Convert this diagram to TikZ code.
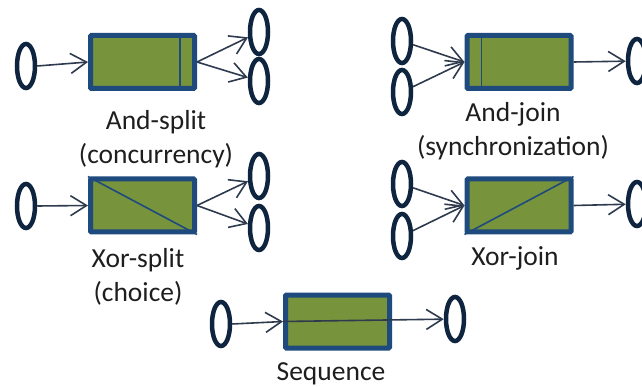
\documentclass[tikz,border=0pt]{standalone}
\usepackage{fontspec}
\setmainfont{Carlito}
\usetikzlibrary{shapes.geometric,arrows.meta,calc}

\definecolor{taskgreen}{HTML}{77933C}
\definecolor{taskblue}{HTML}{1F4A7D}
\definecolor{placeblue}{HTML}{0F243E}
\definecolor{flowgray}{HTML}{2E3B4E}
\definecolor{textgray}{HTML}{1E1E1E}

\tikzset{
  place/.style={ellipse, draw=placeblue, line width=4.5pt, minimum width=18pt, minimum height=44pt, inner sep=0pt},
  task/.style={rectangle, draw=taskblue, fill=taskgreen, line width=5pt, minimum width=104pt, minimum height=53pt, rounded corners=1pt},
  flow/.style={draw=flowgray, line width=1.6pt, -{Straight Barb[length=16pt,width=20pt]}},
  bar/.style={draw=taskblue, line width=1.6pt},
  lbl/.style={text=textgray, font=\fontsize{27.5}{34}\selectfont, align=center}
}

\begin{document}
\begin{tikzpicture}[x=1pt,y=-1pt]
\useasboundingbox (0,0) rectangle (642,387);

% Nodes
  % And-split
  \node[place] (asIn)   at (26,66)    {};
  \node[task]  (asTask) at (142.5,62) {};
  \node[place] (asOutA) at (259,32)   {};
  \node[place] (asOutB) at (259,81)   {};
  \node[lbl]   (asLbl)  at (156,139)  {And-split\\(concurrency)};

  % And-join
  \node[place] (ajInA)  at (402,41)   {};
  \node[place] (ajInB)  at (402,92)   {};
  \node[task]  (ajTask) at (519,62)   {};
  \node[place] (ajOut)  at (637,61)   {};
  \node[lbl]   (ajLbl)  at (513,131.5) {And-join\\(synchronization)};

  % Xor-split
  \node[place] (xsIn)   at (26,206)   {};
  \node[task]  (xsTask) at (142.5,205.5) {};
  \node[place] (xsOutA) at (259,176)  {};
  \node[place] (xsOutB) at (259,228)  {};
  \node[lbl]   (xsLbl)  at (138,276.5) {Xor-split\\(choice)};

  % Xor-join
  \node[place] (xjInA)  at (402,184)  {};
  \node[place] (xjInB)  at (402,236)  {};
  \node[task]  (xjTask) at (519,205.5) {};
  \node[place] (xjOut)  at (637,204)  {};
  \node[lbl]   (xjLbl)  at (515,258)  {Xor-join};

  % Sequence
  \node[place] (sqIn)   at (221,324)  {};
  \node[task]  (sqTask) at (337.5,321.5) {};
  \node[place] (sqOut)  at (455,319)  {};
  \node[lbl]   (sqLbl)  at (331,374)  {Sequence};

% Bars inside the tasks
  \draw[bar] ($(asTask.north east)+(-17,0)$) -- ($(asTask.south east)+(-17,0)$);
  \draw[bar] ($(ajTask.north west)+(17,0)$)  -- ($(ajTask.south west)+(17,0)$);
  \draw[bar] (xsTask.north west) -- (xsTask.south east);
  \draw[bar] (xjTask.south west) -- (xjTask.north east);

% Edges
  \draw[flow] (asIn.east)   -- (asTask.west);
  \draw[flow] (asTask.east) -- (asOutA);
  \draw[flow] (asTask.east) -- (asOutB);

  \draw[flow] (ajInA) -- (ajTask.west);
  \draw[flow] (ajInB) -- (ajTask.west);
  \draw[flow] (ajTask.east) -- (ajOut);

  \draw[flow] (xsIn.east)   -- (xsTask.west);
  \draw[flow] (xsTask.east) -- (xsOutA);
  \draw[flow] (xsTask.east) -- (xsOutB);

  \draw[flow] (xjInA) -- (xjTask.west);
  \draw[flow] (xjInB) -- (xjTask.west);
  \draw[flow] (xjTask.east) -- (xjOut);

  \draw[flow] (sqIn.east)   -- (sqTask.west);
  \draw[flow] (sqTask.west) -- (sqOut);

\end{tikzpicture}
\end{document}
